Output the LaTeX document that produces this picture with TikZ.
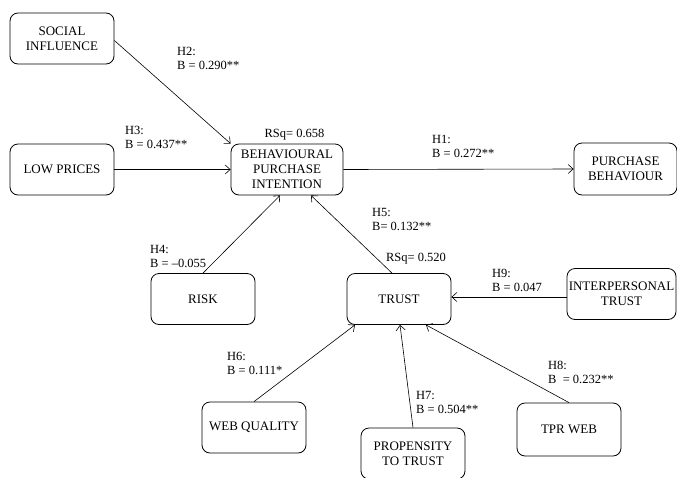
\documentclass[tikz,border=0pt]{standalone}
\usepackage{fontspec}
\setmainfont{Liberation Serif}
\usetikzlibrary{arrows.meta,calc}
\begin{document}
\begin{tikzpicture}[x=1pt,y=-1pt,
  box/.style={draw, rounded corners=8pt, line width=0.8pt, minimum width=104pt, minimum height=51pt, inner sep=0pt, align=center, font=\fontsize{13}{15}\selectfont},
  lbl/.style={anchor=north west, inner sep=0pt, align=left, font=\fontsize{12.5}{14}\selectfont},
  rsq/.style={anchor=base, inner sep=0pt, font=\fontsize{12.5}{14}\selectfont},
  arr/.style={-{Straight Barb[length=5pt,width=9pt]}, line width=0.6pt}]
\useasboundingbox (0,0) rectangle (677,477);
\node[box] (SI) at (62,38.5) {SOCIAL\\INFLUENCE};
\node[box] (LP) at (62,169.5) {LOW PRICES};
\node[box, minimum width=112pt] (BPI) at (287,169.5) {BEHAVIOURAL\\PURCHASE\\INTENTION};
\node[box, minimum width=103pt, minimum height=52pt] (PB) at (625.5,169) {PURCHASE\\BEHAVIOUR};
\node[box] (RISK) at (203,299) {RISK};
\node[box] (TRUST) at (399,299) {TRUST};
\node[box, minimum width=109pt] (IPT) at (621.5,294) {INTERPERSONAL\\TRUST};
\node[box] (WQ) at (254,427.5) {WEB QUALITY};
\node[box] (PT) at (413,453.5) {PROPENSITY\\TO TRUST};
\node[box, minimum height=53pt] (TPR) at (569,429.5) {TPR WEB};

\draw[arr] ([yshift=-2pt]SI.east) -- (BPI.north west);
\draw[arr] (LP.east) -- (BPI.west);
\draw[arr] (BPI.east) -- (PB.west);
\draw[arr] (RISK.north) -- ([xshift=-7pt]BPI.south);
\draw[arr] ([xshift=-7pt]TRUST.north) -- ([xshift=24pt]BPI.south);
\draw[arr] ([yshift=-3pt]IPT.west) -- ([yshift=2pt]TRUST.east);
\draw[arr] (WQ.north) -- ([xshift=-44pt]TRUST.south);
\draw[arr] (PT.north) -- ([xshift=1pt]TRUST.south);
\draw[arr] (TPR.north) -- ([xshift=27pt]TRUST.south);

\node[lbl] (l2) at (177,47) {H2:\\B = 0.290**};
\node[lbl] (l3) at (125,126) {H3:\\B = 0.437**};
\node[rsq] (r1) at (294.5,137) {RSq= 0.658};
\node[lbl] (l1) at (432,135) {H1:\\B = 0.272**};
\node[lbl] (l5) at (372,208) {H5:\\B= 0.132**};
\node[lbl] (l4) at (150,245) {H4:\\B = –0.055};
\node[rsq] (r2) at (416,261) {RSq= 0.520};
\node[lbl] (l9) at (492,269) {H9:\\B = 0.047};
\node[lbl] (l8) at (548,361) {H8:\\B \ = 0.232**};
\node[lbl] (l7) at (416,391) {H7:\\B = 0.504**};
\node[lbl] (l6) at (227,352) {H6:\\B = 0.111*};
\end{tikzpicture}
\end{document}
